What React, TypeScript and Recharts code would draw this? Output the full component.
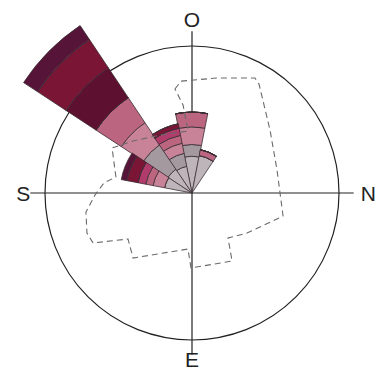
import React from 'react';
import {
  RadialBarChart,
  RadialBar,
  RadarChart,
  Radar,
  PolarGrid,
  PolarAngleAxis,
  PolarRadiusAxis,
} from 'recharts';

// 16 sectors, clockwise from the top ("O")
const directions = ['0', '22.5', '45', '67.5', '90', '112.5', '135', '157.5', '180', '202.5', '225', '247.5', '270', '292.5', '315', '337.5'];

// stacked classes, inner to outer
const lightGrey = [2.5, 2.6, 0, 0, 0, 0, 0, 0, 0, 0, 0, 0, 0, 1.9, 1.95, 1.85];
const grey = [0.8, 0, 0, 0, 0, 0, 0, 0, 0, 0, 0, 0, 0, 0, 2.0, 0.9];
const lightPink = [1.2, 0, 0, 0, 0, 0, 0, 0, 0, 0, 0, 0, 0, 0.8, 1.8, 0.7];
const pink = [1.0, 0.4, 0, 0, 0, 0, 0, 0, 0, 0, 0, 0, 0, 0.5, 2.05, 0.55];
const magenta = [0, 0, 0, 0, 0, 0, 0, 0, 0, 0, 0, 0, 0, 0.55, 0, 0.5];
const maroon = [0, 0, 0, 0, 0, 0, 0, 0, 0, 0, 0, 0, 0, 0, 2.45, 0];
const red = [0, 0, 0, 0, 0, 0, 0, 0, 0, 0, 0, 0, 0, 0.75, 2.3, 0.3];
const purple = [0, 0, 0, 0, 0, 0, 0, 0, 0, 0, 0, 0, 0, 0.4, 1.15, 0];

// dashed outline (compass degrees, radius)
const outlineAngle = [350.7, 354.4, 12.7, 28.7, 31.6, 51.1, 74.9, 94.5, 104.2, 126.0, 141.3, 149.5, 180.8, 184.1, 222.2, 234.3, 243.2, 249.1, 259.8, 268.8, 276.5, 281.9, 299.4, 311.4, 331.1, 356.3, 354.2];
const outlineRadius = [7.17, 7.65, 8.02, 8.92, 8.7, 6.82, 5.99, 6.07, 6.39, 4.63, 3.92, 5.37, 5.1, 3.82, 5.97, 5.36, 7.54, 7.65, 7.33, 6.6, 6.03, 5.29, 6.24, 5.35, 4.5, 4.22, 6.02];

const compass = ['O', 'N', 'E', 'S'];

const W = 375;
const H = 373;
const CX = 192;
const CY = 193;
const PX = 14.7; // px per unit
const noMargin = { top: 0, right: 0, bottom: 0, left: 0 };

const layers = [
  { key: 'lightGrey', color: '#bdb5b9' },
  { key: 'grey', color: '#a3999e' },
  { key: 'lightPink', color: '#c98398' },
  { key: 'pink', color: '#bb6580' },
  { key: 'magenta', color: '#b13b6b' },
  { key: 'maroon', color: '#5d1030' },
  { key: 'red', color: '#7a1535' },
  { key: 'purple', color: '#561538' },
];

const roseData = directions.map((dir, i) => ({
  dir,
  lightGrey: lightGrey[i],
  grey: grey[i],
  lightPink: lightPink[i],
  pink: pink[i],
  magenta: magenta[i],
  maroon: maroon[i],
  red: red[i],
  purple: purple[i],
}));

const outlineData = outlineAngle.map((angle, i) => ({ angle, r: outlineRadius[i] }));
const compassData = compass.map((k) => ({ k, v: 0 }));

const labelShift: Record<string, { dx: number; dy: number; anchor: string }> = {
  O: { dx: 0, dy: 3.7, anchor: 'middle' },
  N: { dx: -1, dy: 7.5, anchor: 'start' },
  E: { dx: 0, dy: 4.3, anchor: 'middle' },
  S: { dx: 1, dy: 7.5, anchor: 'middle' },
};

const CompassTick = (props: any) => {
  const { x, y, payload } = props;
  const s = labelShift[payload.value] || { dx: 0, dy: 0, anchor: 'middle' };
  return (
    <text x={x + s.dx} y={y + s.dy} textAnchor={s.anchor} fontSize={21} fill="#222" fontFamily="Liberation Sans, Arial, sans-serif">
      {payload.value}
    </text>
  );
};

const layer: React.CSSProperties = { position: 'absolute', left: 0, top: 0 };

export default function App() {
  return (
    <div style={{ position: 'absolute', left: 0, top: 0, width: W, height: H, background: '#fff' }}>
      <div style={layer}>
        <RadarChart width={W} height={H} cx={CX} cy={CY} outerRadius={11 * PX} data={compassData} margin={noMargin}>
          <PolarGrid gridType="circle" polarRadius={[10 * PX]} stroke="#222" strokeWidth={1.2} />
          <PolarAngleAxis dataKey="k" tick={<CompassTick />} tickLine={false} axisLine={false} />
        </RadarChart>
      </div>
      <div style={layer}>
        <RadialBarChart
          width={W}
          height={H}
          cx={CX}
          cy={CY}
          innerRadius={0}
          outerRadius={14 * PX}
          startAngle={78.75}
          endAngle={-281.25}
          layout="centric"
          data={roseData}
          barCategoryGap={0}
          barGap={0}
          margin={noMargin}
        >
          <PolarAngleAxis type="category" dataKey="dir" tick={false} tickLine={false} axisLine={false} />
          <PolarRadiusAxis type="number" domain={[0, 14]} tick={false} tickLine={false} axisLine={false} />
          {layers.map((l) => (
            <RadialBar
              key={l.key}
              dataKey={l.key}
              stackId="rose"
              fill={l.color}
              stroke="#3b2f35"
              strokeWidth={0.8}
              isAnimationActive={false}
            />
          ))}
        </RadialBarChart>
      </div>
      <div style={layer}>
        <RadarChart width={W} height={H} cx={CX} cy={CY} outerRadius={11 * PX} data={outlineData} margin={noMargin}>
          <PolarAngleAxis type="number" dataKey="angle" domain={[0, 360]} tick={false} tickLine={false} axisLine={false} />
          <PolarRadiusAxis type="number" domain={[0, 11]} tick={false} tickLine={false} axisLine={false} />
          <Radar dataKey="r" fill="none" fillOpacity={0} stroke="#6a6a6a" strokeWidth={1.1} strokeDasharray="6 4" isAnimationActive={false} />
        </RadarChart>
      </div>
    </div>
  );
}
